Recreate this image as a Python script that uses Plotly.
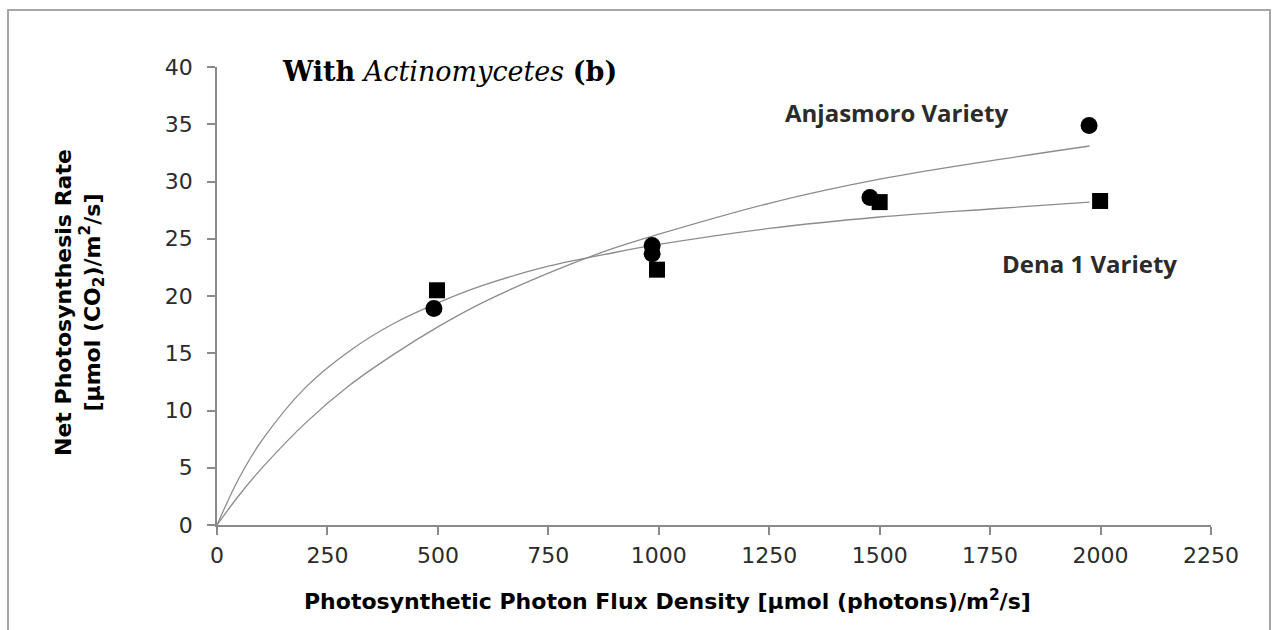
import plotly.graph_objects as go

# Measured points: net photosynthesis vs. photon flux density
anjasmoro_ppfd = [491, 985, 985, 1478, 1974]
anjasmoro_rate = [18.9, 24.4, 23.7, 28.6, 34.9]
dena_ppfd = [498, 996, 1500, 1999]
dena_rate = [20.5, 22.3, 28.2, 28.3]

# Light-response trend curves (values along each fitted line)
curve_ppfd = [0, 50, 100, 200, 300, 400, 500, 600, 750, 900, 1000, 1250, 1500, 1750, 1975]
anjasmoro_curve = [0, 2.6, 4.9, 8.9, 12.2, 14.9, 17.3, 19.4, 22.0, 24.2, 25.4, 28.1, 30.2, 31.8, 33.1]
dena_curve = [0, 4.1, 7.3, 12.0, 15.2, 17.6, 19.4, 20.9, 22.6, 23.8, 24.5, 25.9, 26.9, 27.6, 28.2]

x_ticks = [0, 250, 500, 750, 1000, 1250, 1500, 1750, 2000, 2250]
y_ticks = [0, 5, 10, 15, 20, 25, 30, 35, 40]

AXIS_GREY = "#8a8a8a"
CURVE_GREY = "#8c8c8c"
TEXT = "#2b2b2b"
SANS = "DejaVu Sans, Liberation Sans, Arial"

fig = go.Figure()

for yv in (anjasmoro_curve, dena_curve):
    fig.add_trace(go.Scatter(
        x=curve_ppfd, y=yv, mode="lines", line_shape="spline",
        line=dict(color=CURVE_GREY, width=1.3), hoverinfo="skip", showlegend=False))

fig.add_trace(go.Scatter(
    x=anjasmoro_ppfd, y=anjasmoro_rate, mode="markers", name="Anjasmoro Variety",
    marker=dict(symbol="circle", size=17, color="black"), showlegend=False))
fig.add_trace(go.Scatter(
    x=dena_ppfd, y=dena_rate, mode="markers", name="Dena 1 Variety",
    marker=dict(symbol="square", size=16, color="black"), showlegend=False))

axis_common = dict(
    showgrid=False, zeroline=False, showline=True, linecolor=AXIS_GREY, linewidth=1.5,
    ticks="outside", ticklen=8, tickwidth=1.5, tickcolor=AXIS_GREY,
    tickfont=dict(family=SANS, size=22, color=TEXT))

fig.update_xaxes(range=[0, 2250], tickvals=x_ticks, ticklabelstandoff=2, **axis_common)
fig.update_yaxes(range=[0, 40], tickvals=y_ticks, ticklabelstandoff=10, **axis_common)

annotations = [
    dict(text="<b>With</b> <i>Actinomycetes</i> <b>(b)</b>", xref="paper", yref="paper",
         x=0.063, y=0.99, xanchor="left", yanchor="middle", showarrow=False,
         font=dict(family="DejaVu Serif, Liberation Serif", size=27, color="black")),
    dict(text="<b>Anjasmoro Variety</b>", xref="x", yref="y", x=1539, y=36.0,
         xanchor="center", yanchor="middle", showarrow=False,
         font=dict(family="Open Sans", size=24, color=TEXT)),
    dict(text="<b>Dena 1 Variety</b>", xref="x", yref="y", x=1974, y=22.8,
         xanchor="center", yanchor="middle", showarrow=False,
         font=dict(family="Open Sans", size=24, color=TEXT)),
    dict(text="<b>Photosynthetic Photon Flux Density [μmol (photons)/m<sup>2</sup>/s]</b>",
         xref="paper", yref="paper", x=(667 - 217) / 994, y=-(600 - 525) / 458,
         xanchor="center", yanchor="middle", showarrow=False,
         font=dict(family=SANS, size=22, color="black")),
    dict(text="<b>Net Photosynthesis Rate<br>[μmol (CO<sub>2</sub>)/m<sup>2</sup>/s]</b>",
         xref="paper", yref="paper", x=(79 - 217) / 994, y=(525 - 303) / 458,
         xanchor="center", yanchor="middle", showarrow=False, textangle=-90,
         font=dict(family=SANS, size=22, color="black")),
]

fig.update_layout(
    width=1277, height=630,
    margin=dict(l=217, r=66, t=67, b=105),
    paper_bgcolor="white", plot_bgcolor="white",
    annotations=annotations,
    shapes=[dict(type="rect", xref="paper", yref="paper",
                 x0=(8 - 217) / 994, x1=(1270 - 217) / 994,
                 y0=(525 - 660) / 458, y1=(525 - 10) / 458,
                 line=dict(color="#a6a6a6", width=2), fillcolor="rgba(0,0,0,0)", layer="below")],
)

fig.write_html("out.html")
